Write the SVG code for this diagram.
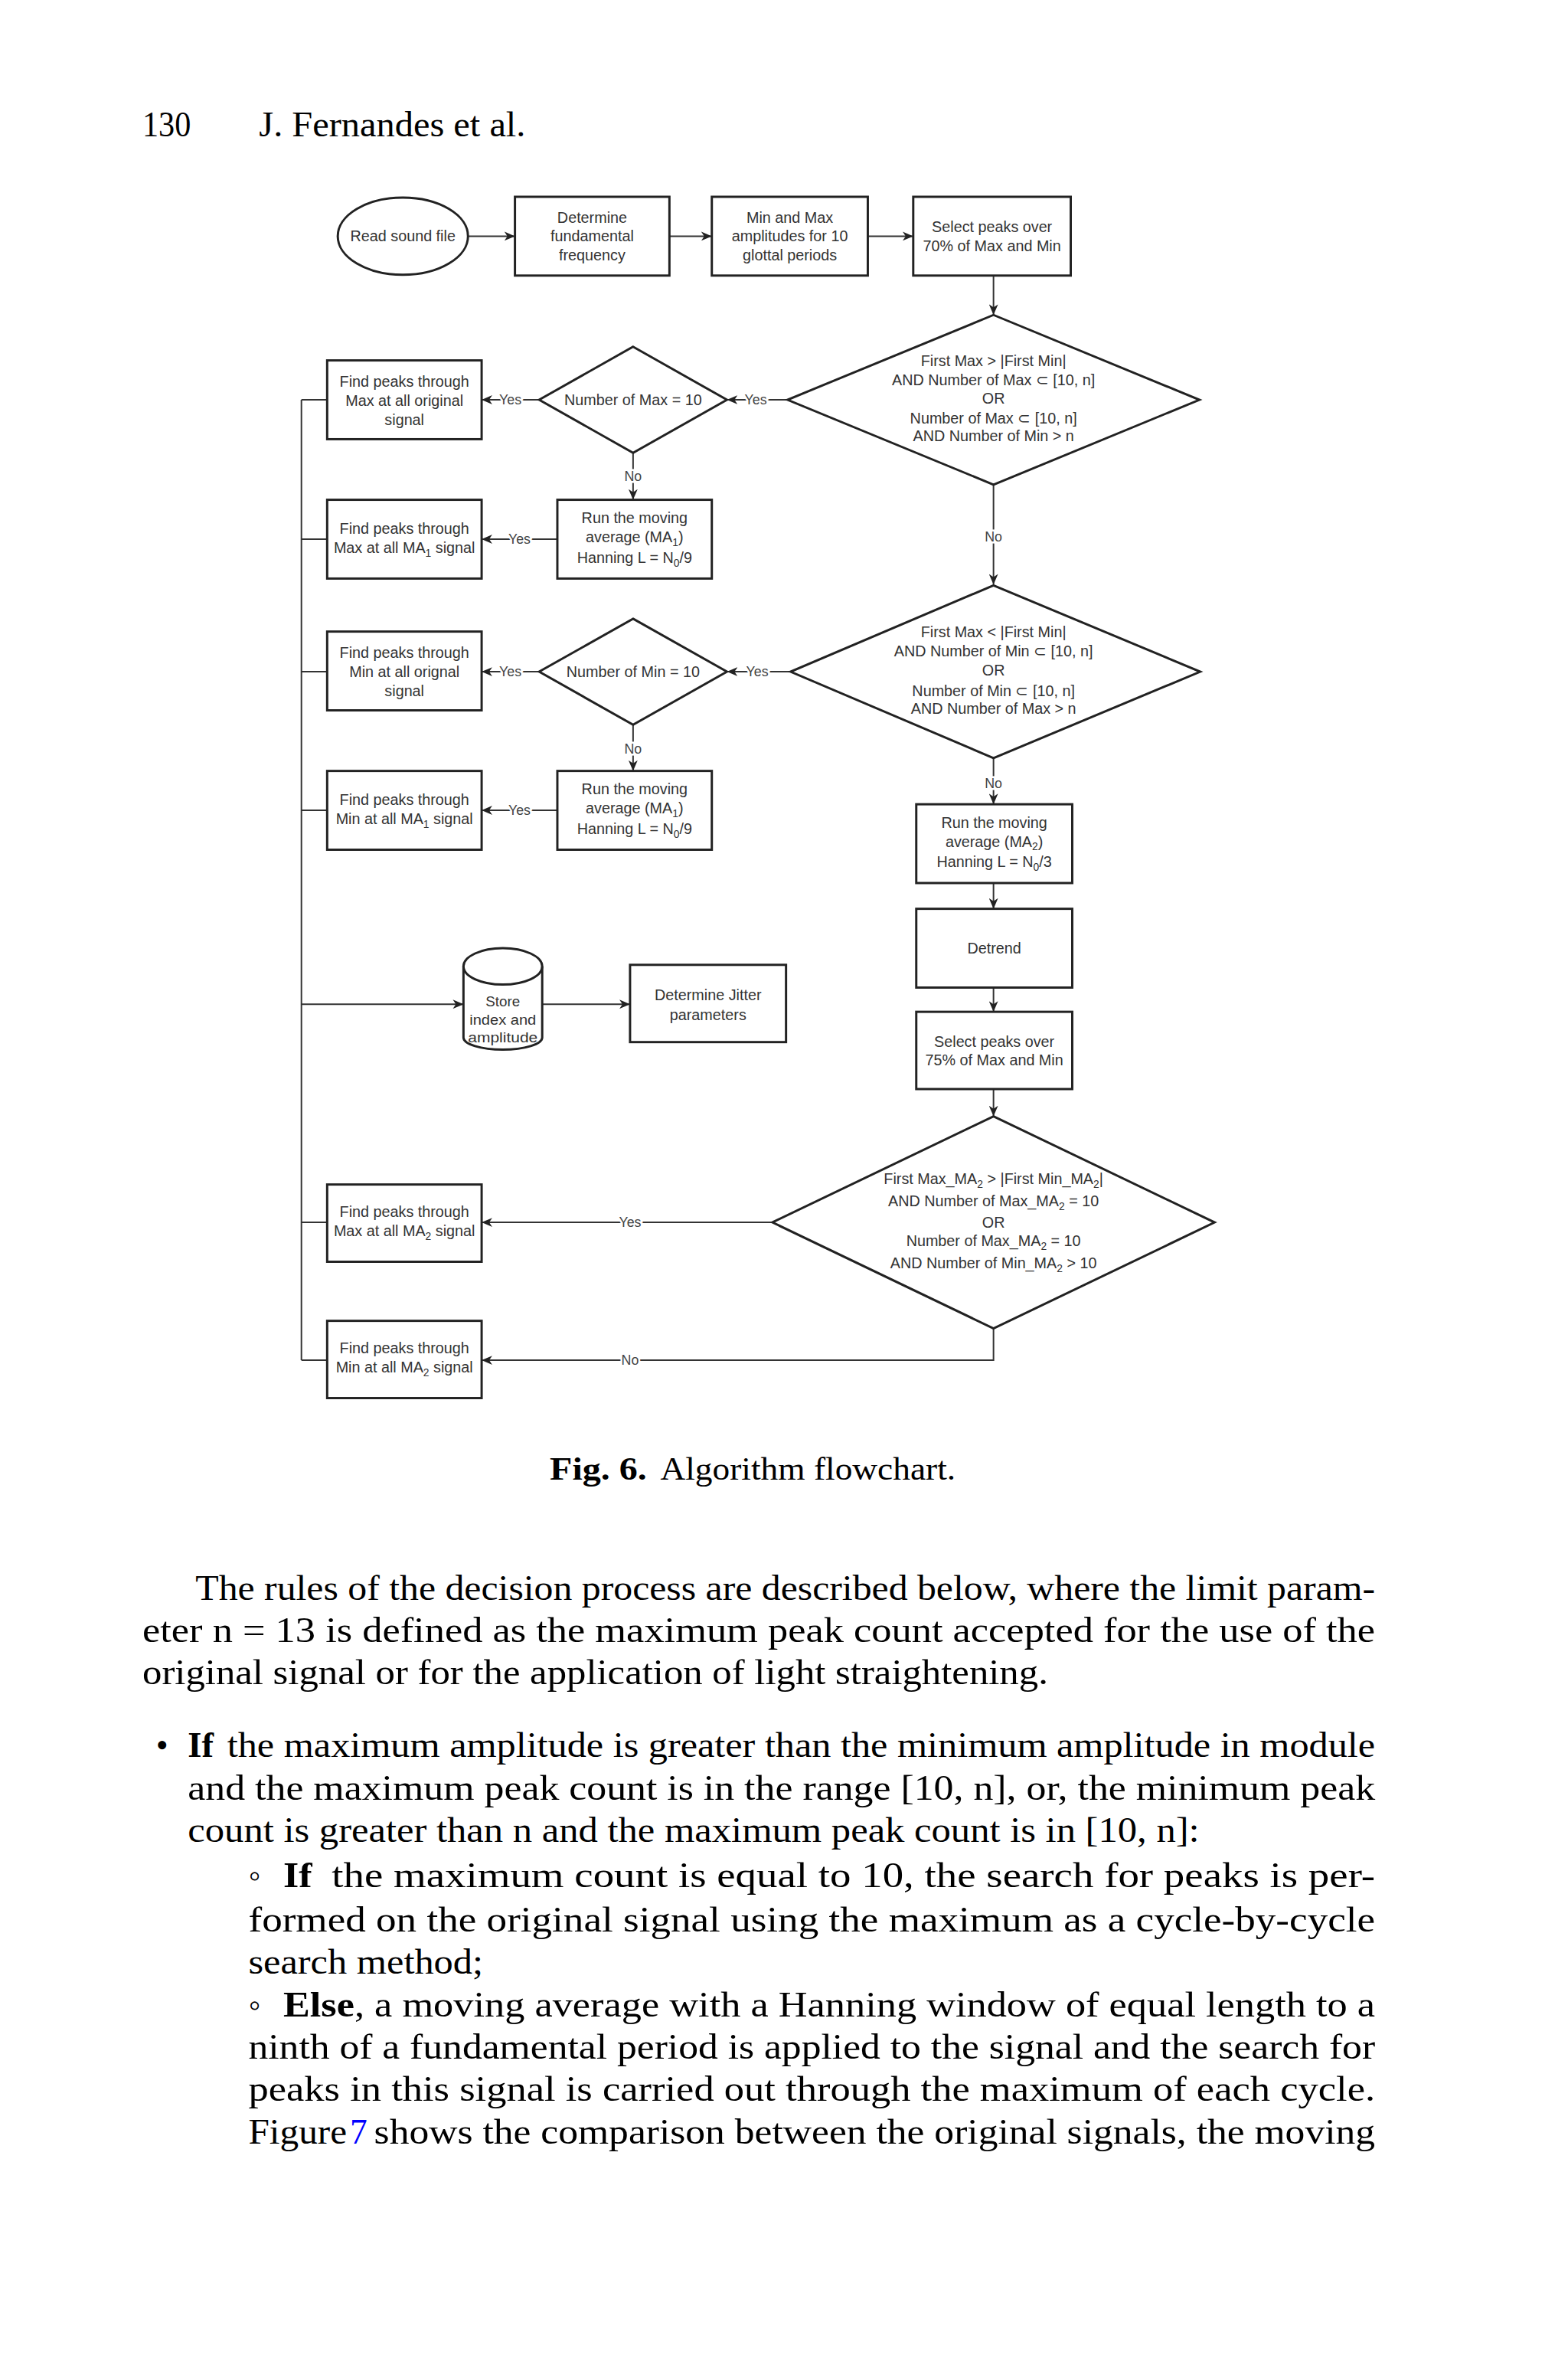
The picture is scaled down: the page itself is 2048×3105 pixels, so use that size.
<svg xmlns="http://www.w3.org/2000/svg" width="2048" height="3105" viewBox="0 0 2048 3105">
<style>
.n{fill:#fff;stroke:#222;stroke-width:3}
.t{font-family:"Liberation Sans",Arial,sans-serif;font-size:20px;fill:#333;text-anchor:middle}
.s{font-size:14px}
.c{fill:none;stroke:#333;stroke-width:2}
.l{font-family:"Liberation Sans",Arial,sans-serif;font-size:18px;fill:#444;text-anchor:middle;stroke:#fff;stroke-width:5;paint-order:stroke}
.b{font-family:"Liberation Serif","Times New Roman",serif;font-size:46px;fill:#000}
.bb{font-weight:bold}
</style>
<defs>
<marker id="a" viewBox="0 0 14 12" refX="14" refY="6" markerWidth="14" markerHeight="12" markerUnits="userSpaceOnUse" orient="auto">
<path d="M0,0 L14,6 L0,12 L4,6 Z" fill="#222"/>
</marker>
</defs>
<rect width="2048" height="3105" fill="#fff"/>
<g transform="translate(186,164) scale(0.989) translate(-186,-164)">
<g id="header">
<text class="b" x="186" y="178" textLength="64" lengthAdjust="spacingAndGlyphs">130</text>
<text class="b" x="340" y="178" textLength="352" lengthAdjust="spacingAndGlyphs">J. Fernandes et al.</text>
</g>

<g id="connectors">
<line class="c" x1="616" y1="310" x2="678" y2="310" marker-end="url(#a)"/>
<line class="c" x1="882" y1="310" x2="938" y2="310" marker-end="url(#a)"/>
<line class="c" x1="1144" y1="310" x2="1204" y2="310" marker-end="url(#a)"/>
<line class="c" x1="1310" y1="362" x2="1310" y2="414" marker-end="url(#a)"/>
<line class="c" x1="1038" y1="526" x2="958" y2="526" marker-end="url(#a)"/>
<line class="c" x1="710" y1="526" x2="634" y2="526" marker-end="url(#a)"/>
<line class="c" x1="834" y1="596" x2="834" y2="658" marker-end="url(#a)"/>
<line class="c" x1="734" y1="710" x2="634" y2="710" marker-end="url(#a)"/>
<line class="c" x1="1310" y1="638" x2="1310" y2="770" marker-end="url(#a)"/>
<line class="c" x1="1042" y1="885" x2="958" y2="885" marker-end="url(#a)"/>
<line class="c" x1="710" y1="885" x2="634" y2="885" marker-end="url(#a)"/>
<line class="c" x1="834" y1="955" x2="834" y2="1016" marker-end="url(#a)"/>
<line class="c" x1="734" y1="1068" x2="634" y2="1068" marker-end="url(#a)"/>
<line class="c" x1="1310" y1="999" x2="1310" y2="1060" marker-end="url(#a)"/>
<line class="c" x1="1310" y1="1164" x2="1310" y2="1198" marker-end="url(#a)"/>
<line class="c" x1="1310" y1="1302" x2="1310" y2="1334" marker-end="url(#a)"/>
<line class="c" x1="1310" y1="1436" x2="1310" y2="1472" marker-end="url(#a)"/>
<line class="c" x1="1018" y1="1612" x2="634" y2="1612" marker-end="url(#a)"/>
<polyline class="c" points="1310,1752 1310,1794 634,1794" marker-end="url(#a)"/>
<line class="c" x1="396" y1="526" x2="396" y2="1794"/>
<line class="c" x1="396" y1="526" x2="430" y2="526"/>
<line class="c" x1="396" y1="710" x2="430" y2="710"/>
<line class="c" x1="396" y1="885" x2="430" y2="885"/>
<line class="c" x1="396" y1="1068" x2="430" y2="1068"/>
<line class="c" x1="396" y1="1612" x2="430" y2="1612"/>
<line class="c" x1="396" y1="1794" x2="430" y2="1794"/>
<line class="c" x1="396" y1="1324" x2="610" y2="1324" marker-end="url(#a)"/>
<line class="c" x1="714" y1="1324" x2="830" y2="1324" marker-end="url(#a)"/>
<text class="l" x="996" y="532">Yes</text>
<text class="l" x="672" y="532">Yes</text>
<text class="l" x="834" y="633">No</text>
<text class="l" x="684" y="716">Yes</text>
<text class="l" x="1310" y="713">No</text>
<text class="l" x="998" y="891">Yes</text>
<text class="l" x="672" y="891">Yes</text>
<text class="l" x="834" y="993">No</text>
<text class="l" x="684" y="1074">Yes</text>
<text class="l" x="1310" y="1039">No</text>
<text class="l" x="830" y="1618">Yes</text>
<text class="l" x="830" y="1800">No</text>
</g>

<g id="read">
<ellipse class="n" cx="530" cy="310" rx="86" ry="51"/>
<text class="t" x="530" y="317">Read sound file</text>
</g>
<g id="fundamental">
<rect class="n" x="678" y="258" width="204" height="104"/>
<text class="t" x="780" y="292">Determine</text>
<text class="t" x="780" y="317">fundamental</text>
<text class="t" x="780" y="342">frequency</text>
</g>
<g id="minmax">
<rect class="n" x="938" y="258" width="206" height="104"/>
<text class="t" x="1041" y="292">Min and Max</text>
<text class="t" x="1041" y="317">amplitudes for 10</text>
<text class="t" x="1041" y="342">glottal periods</text>
</g>
<g id="select70">
<rect class="n" x="1204" y="258" width="208" height="104"/>
<text class="t" x="1308" y="305">Select peaks over</text>
<text class="t" x="1308" y="330">70% of Max and Min</text>
</g>
<g id="decision1">
<polygon class="n" points="1310,414 1582,526 1310,638 1038,526"/>
<text class="t" x="1310" y="481">First Max &gt; |First Min|</text>
<text class="t" x="1310" y="507">AND Number of Max ⊂ [10, n]</text>
<text class="t" x="1310" y="531">OR</text>
<text class="t" x="1310" y="557">Number of Max ⊂ [10, n]</text>
<text class="t" x="1310" y="581">AND Number of Min &gt; n</text>
</g>
<g id="maxeq10">
<polygon class="n" points="834,456 958,526 834,596 710,526"/>
<text class="t" x="834" y="533">Number of Max = 10</text>
</g>
<g id="maxorig">
<rect class="n" x="430" y="474" width="204" height="104"/>
<text class="t" x="532" y="509">Find peaks through</text>
<text class="t" x="532" y="534">Max at all original</text>
<text class="t" x="532" y="559">signal</text>
</g>
<g id="ma1max">
<rect class="n" x="734" y="658" width="204" height="104"/>
<text class="t" x="836" y="689">Run the moving</text>
<text class="t" x="836" y="714">average (MA<tspan class="s" dy="5">1</tspan><tspan dy="-5">)</tspan></text>
<text class="t" x="836" y="741">Hanning L = N<tspan class="s" dy="5">0</tspan><tspan dy="-5">/9</tspan></text>
</g>
<g id="maxma1">
<rect class="n" x="430" y="658" width="204" height="104"/>
<text class="t" x="532" y="703">Find peaks through</text>
<text class="t" x="532" y="728">Max at all MA<tspan class="s" dy="5">1</tspan><tspan dy="-5"> signal</tspan></text>
</g>
<g id="decision2">
<polygon class="n" points="1310,771 1583,885 1310,999 1042,885"/>
<text class="t" x="1310" y="839">First Max &lt; |First Min|</text>
<text class="t" x="1310" y="865">AND Number of Min ⊂ [10, n]</text>
<text class="t" x="1310" y="890">OR</text>
<text class="t" x="1310" y="917">Number of Min ⊂ [10, n]</text>
<text class="t" x="1310" y="941">AND Number of Max &gt; n</text>
</g>
<g id="mineq10">
<polygon class="n" points="834,815 958,885 834,955 710,885"/>
<text class="t" x="834" y="892">Number of Min = 10</text>
</g>
<g id="minorig">
<rect class="n" x="430" y="832" width="204" height="104"/>
<text class="t" x="532" y="867">Find peaks through</text>
<text class="t" x="532" y="892">Min at all orignal</text>
<text class="t" x="532" y="917">signal</text>
</g>
<g id="ma1min">
<rect class="n" x="734" y="1016" width="204" height="104"/>
<text class="t" x="836" y="1047">Run the moving</text>
<text class="t" x="836" y="1072">average (MA<tspan class="s" dy="5">1</tspan><tspan dy="-5">)</tspan></text>
<text class="t" x="836" y="1099">Hanning L = N<tspan class="s" dy="5">0</tspan><tspan dy="-5">/9</tspan></text>
</g>
<g id="minma1">
<rect class="n" x="430" y="1016" width="204" height="104"/>
<text class="t" x="532" y="1061">Find peaks through</text>
<text class="t" x="532" y="1086">Min at all MA<tspan class="s" dy="5">1</tspan><tspan dy="-5"> signal</tspan></text>
</g>
<g id="ma2">
<rect class="n" x="1208" y="1060" width="206" height="104"/>
<text class="t" x="1311" y="1091">Run the moving</text>
<text class="t" x="1311" y="1116">average (MA<tspan class="s" dy="5">2</tspan><tspan dy="-5">)</tspan></text>
<text class="t" x="1311" y="1143">Hanning L = N<tspan class="s" dy="5">0</tspan><tspan dy="-5">/3</tspan></text>
</g>
<g id="detrend">
<rect class="n" x="1208" y="1198" width="206" height="104"/>
<text class="t" x="1311" y="1257">Detrend</text>
</g>
<g id="select75">
<rect class="n" x="1208" y="1334" width="206" height="102"/>
<text class="t" x="1311" y="1380">Select peaks over</text>
<text class="t" x="1311" y="1405">75% of Max and Min</text>
</g>
<g id="store">
<path class="n" d="M610,1274 A52,24 0 0,1 714,1274 V1368 A52,16 0 0,1 610,1368 Z"/>
<path class="c" style="stroke:#222;stroke-width:3" d="M610,1274 A52,24 0 0,0 714,1274"/>
<text class="t" x="662" y="1327" style="font-size:19px">Store</text>
<text class="t" x="662" y="1351" style="font-size:19px" textLength="88" lengthAdjust="spacingAndGlyphs">index and</text>
<text class="t" x="662" y="1374" style="font-size:19px" textLength="92" lengthAdjust="spacingAndGlyphs">amplitude</text>
</g>
<g id="jitter">
<rect class="n" x="830" y="1272" width="206" height="102"/>
<text class="t" x="933" y="1319">Determine Jitter</text>
<text class="t" x="933" y="1345">parameters</text>
</g>
<g id="decision3">
<polygon class="n" points="1310,1472 1602,1612 1310,1752 1018,1612"/>
<text class="t" x="1310" y="1561">First Max_MA<tspan class="s" dy="5">2</tspan><tspan dy="-5"> &gt; |First Min_MA</tspan><tspan class="s" dy="5">2</tspan><tspan dy="-5">|</tspan></text>
<text class="t" x="1310" y="1591">AND Number of Max_MA<tspan class="s" dy="5">2</tspan><tspan dy="-5"> = 10</tspan></text>
<text class="t" x="1310" y="1619">OR</text>
<text class="t" x="1310" y="1643">Number of Max_MA<tspan class="s" dy="5">2</tspan><tspan dy="-5"> = 10</tspan></text>
<text class="t" x="1310" y="1673">AND Number of Min_MA<tspan class="s" dy="5">2</tspan><tspan dy="-5"> &gt; 10</tspan></text>
</g>
<g id="maxma2">
<rect class="n" x="430" y="1562" width="204" height="102"/>
<text class="t" x="532" y="1605">Find peaks through</text>
<text class="t" x="532" y="1630">Max at all MA<tspan class="s" dy="5">2</tspan><tspan dy="-5"> signal</tspan></text>
</g>
<g id="minma2">
<rect class="n" x="430" y="1742" width="204" height="102"/>
<text class="t" x="532" y="1785">Find peaks through</text>
<text class="t" x="532" y="1810">Min at all MA<tspan class="s" dy="5">2</tspan><tspan dy="-5"> signal</tspan></text>
</g>

<g id="caption">
<text class="b bb" x="724" y="1952" style="font-size:42px" textLength="128" lengthAdjust="spacingAndGlyphs">Fig. 6.</text>
<text class="b" x="870" y="1952" style="font-size:42px" textLength="390" lengthAdjust="spacingAndGlyphs">Algorithm flowchart.</text>
</g>

<g id="body">
<text class="b" x="256" y="2110" textLength="1558" lengthAdjust="spacingAndGlyphs">The rules of the decision process are described below, where the limit param-</text>
<text class="b" x="186" y="2166" textLength="1628" lengthAdjust="spacingAndGlyphs">eter n = 13 is defined as the maximum peak count accepted for the use of the</text>
<text class="b" x="186" y="2222" textLength="1196" lengthAdjust="spacingAndGlyphs">original signal or for the application of light straightening.</text>
<text class="b" x="204" y="2318">•</text>
<text class="b bb" x="246" y="2318" textLength="34" lengthAdjust="spacingAndGlyphs">If</text>
<text class="b" x="298" y="2318" textLength="1516" lengthAdjust="spacingAndGlyphs">the maximum amplitude is greater than the minimum amplitude in module</text>
<text class="b" x="246" y="2374" textLength="1568" lengthAdjust="spacingAndGlyphs">and the maximum peak count is in the range [10, n], or, the minimum peak</text>
<text class="b" x="246" y="2430" textLength="1336" lengthAdjust="spacingAndGlyphs">count is greater than n and the maximum peak count is in [10, n]:</text>
<text class="b" x="326" y="2490">◦</text>
<text class="b bb" x="372" y="2490" textLength="38" lengthAdjust="spacingAndGlyphs">If</text>
<text class="b" x="436" y="2490" textLength="1378" lengthAdjust="spacingAndGlyphs">the maximum count is equal to 10, the search for peaks is per-</text>
<text class="b" x="326" y="2548" textLength="1488" lengthAdjust="spacingAndGlyphs">formed on the original signal using the maximum as a cycle-by-cycle</text>
<text class="b" x="326" y="2604" textLength="310" lengthAdjust="spacingAndGlyphs">search method;</text>
<text class="b" x="326" y="2660">◦</text>
<text class="b bb" x="372" y="2660" textLength="94" lengthAdjust="spacingAndGlyphs">Else</text>
<text class="b" x="466" y="2660" textLength="1348" lengthAdjust="spacingAndGlyphs">, a moving average with a Hanning window of equal length to a</text>
<text class="b" x="326" y="2716" textLength="1488" lengthAdjust="spacingAndGlyphs">ninth of a fundamental period is applied to the signal and the search for</text>
<text class="b" x="326" y="2772" textLength="1488" lengthAdjust="spacingAndGlyphs">peaks in this signal is carried out through the maximum of each cycle.</text>
<text class="b" x="326" y="2828" textLength="130" lengthAdjust="spacingAndGlyphs">Figure</text>
<text class="b" x="460" y="2828" style="fill:#00f">7</text>
<text class="b" x="492" y="2828" textLength="1322" lengthAdjust="spacingAndGlyphs">shows the comparison between the original signals, the moving</text>
</g>
</g>
</svg>
